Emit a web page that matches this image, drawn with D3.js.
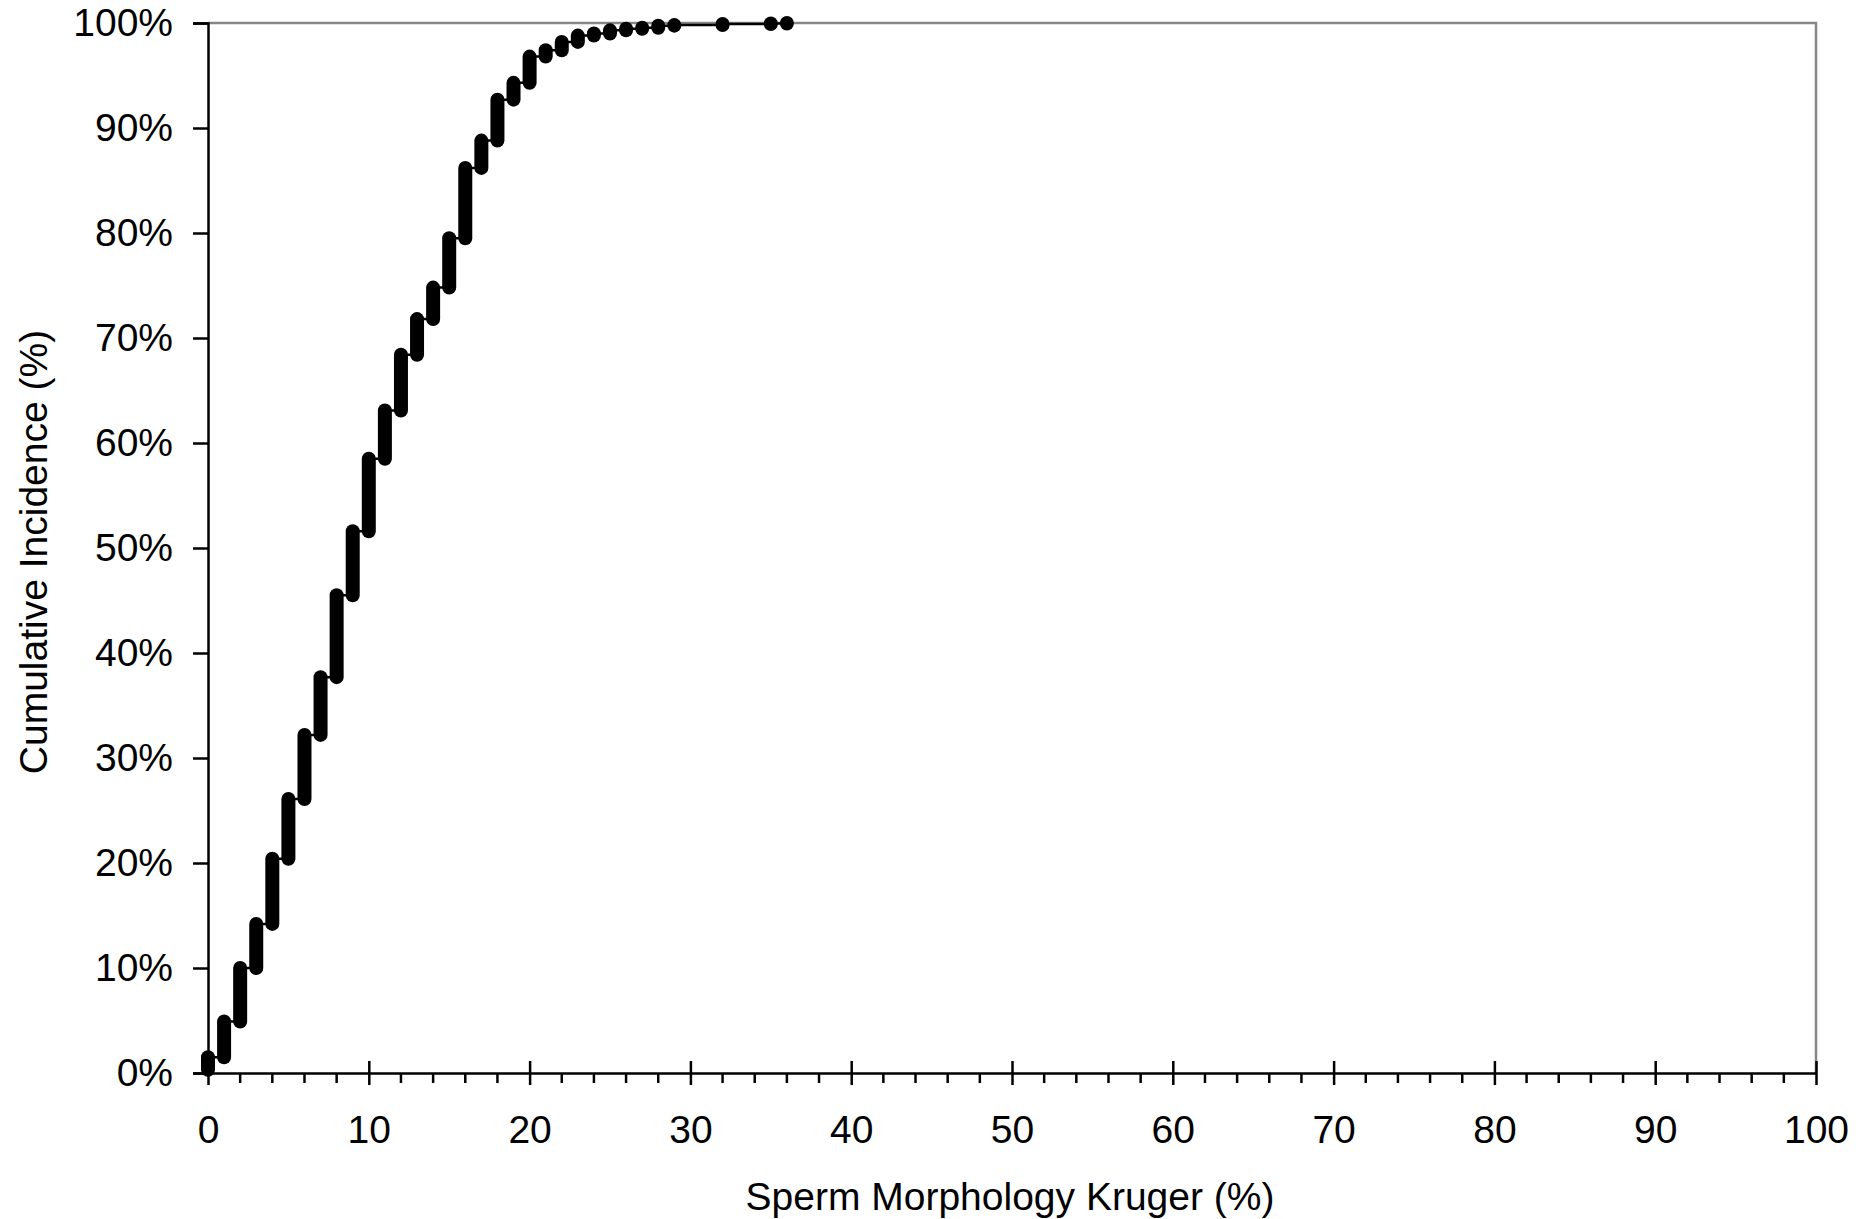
<!DOCTYPE html>
<html>
<head>
<meta charset="utf-8">
<script src="https://cdn.jsdelivr.net/npm/d3@7"></script>
<style>
  body { margin: 0; background: #fff; }
  text { font-family: "Liberation Sans", Arial, sans-serif; fill: #000; }
</style>
</head>
<body>
<div id="chart-area"></div>
<script>
// Kruger morphology values (%) that occur in the data
const kruger = [0, 1, 2, 3, 4, 5, 6, 7, 8, 9, 10, 11, 12, 13, 14, 15, 16, 17, 18, 19,
                20, 21, 22, 23, 24, 25, 26, 27, 28, 29, 32, 35, 36];
// cumulative incidence (%) reached at each value
const cumulative = [1.5, 4.9, 10.0, 14.2, 20.4, 26.1, 32.2, 37.7, 45.5, 51.6, 58.5, 63.1, 68.4, 71.8, 74.8, 79.5,
                    86.2, 88.8, 92.7, 94.3, 96.8, 97.4, 98.2, 98.8, 99.0, 99.3, 99.45, 99.55, 99.75, 99.8,
                    99.9, 99.95, 100];
const firstPoint = 0.3;
const xTicks = [0, 10, 20, 30, 40, 50, 60, 70, 80, 90, 100];
const yTicks = [0, 10, 20, 30, 40, 50, 60, 70, 80, 90, 100];

const WIDTH = 1860, HEIGHT = 1219;
const LEFT = 208, RIGHT = 1816, TOP = 23, BOTTOM = 1073;

const svg = d3.select("#chart-area").append("svg")
  .attr("width", WIDTH)
  .attr("height", HEIGHT)

const x = d3.scaleLinear().domain([0, 100]).range([LEFT, RIGHT])
const y = d3.scaleLinear().domain([0, 100]).range([BOTTOM, TOP])

// each step: from previous cumulative up to the new one
const steps = kruger.map((k, i) => ({
  k: k,
  from: i === 0 ? firstPoint : cumulative[i - 1],
  to: cumulative[i]
}))

// gray frame top and right
svg.append("path")
  .attr("d", `M${LEFT},${TOP}H${RIGHT}V${BOTTOM}`)
  .attr("fill", "none")
  .attr("stroke", "#868686")
  .attr("stroke-width", 2.5)

// Y axis
const yAxisCall = d3.axisLeft(y)
  .tickValues(yTicks)
  .tickSize(15)
  .tickPadding(20)
  .tickFormat(d => d + "%")
const yAxis = svg.append("g")
  .attr("transform", `translate(${LEFT}, 0)`)
  .call(yAxisCall)
yAxis.select(".domain").attr("stroke", "#000").attr("stroke-width", 2.5)
yAxis.selectAll(".tick line").attr("stroke", "#000").attr("stroke-width", 2.5)
yAxis.selectAll("text")
  .attr("font-size", "39px")
  .attr("font-family", "Liberation Sans, Arial, sans-serif")
  .attr("fill", "#000")

// X axis, minor ticks every 2
const xMinor = d3.range(0, 101, 2).filter(d => d % 10 !== 0)
svg.append("g").selectAll("line").data(xMinor)
  .enter().append("line")
  .attr("x1", d => x(d)).attr("x2", d => x(d))
  .attr("y1", BOTTOM).attr("y2", BOTTOM + 10)
  .attr("stroke", "#000")
  .attr("stroke-width", 2.5)

const xAxisCall = d3.axisBottom(x)
  .tickValues(xTicks)
  .tickSizeInner(12)
  .tickSizeOuter(0)
  .tickPadding(30)
const xAxis = svg.append("g")
  .attr("transform", `translate(0, ${BOTTOM})`)
  .call(xAxisCall)
xAxis.select(".domain").attr("stroke", "#000").attr("stroke-width", 2.5)
xAxis.selectAll(".tick line")
  .attr("y1", -12)
  .attr("stroke", "#000")
  .attr("stroke-width", 2.5)
xAxis.selectAll("text")
  .attr("font-size", "39px")
  .attr("font-family", "Liberation Sans, Arial, sans-serif")
  .attr("fill", "#000")

// Y label
svg.append("text")
  .attr("x", -552)
  .attr("y", 47)
  .attr("font-size", "39px")
  .attr("text-anchor", "middle")
  .attr("transform", "rotate(-90)")
  .text("Cumulative Incidence (%)")

// X label
svg.append("text")
  .attr("x", 1010)
  .attr("y", 1210)
  .attr("font-size", "39px")
  .attr("text-anchor", "middle")
  .text("Sperm Morphology Kruger (%)")

// thin connecting line
const pts = []
steps.forEach(s => { pts.push([s.k, s.from]); pts.push([s.k, s.to]) })
const line = d3.line().x(d => x(d[0])).y(d => y(d[1]))
svg.append("path")
  .datum(pts)
  .attr("d", line)
  .attr("fill", "none")
  .attr("stroke", "#000")
  .attr("stroke-width", 2.5)

// thick marker runs at each value
svg.append("g").selectAll("line").data(steps)
  .enter().append("line")
  .attr("x1", d => x(d.k)).attr("x2", d => x(d.k))
  .attr("y1", d => y(d.from)).attr("y2", d => y(d.to))
  .attr("stroke", "#000")
  .attr("stroke-width", 14)
  .attr("stroke-linecap", "round")
</script>
</body>
</html>
